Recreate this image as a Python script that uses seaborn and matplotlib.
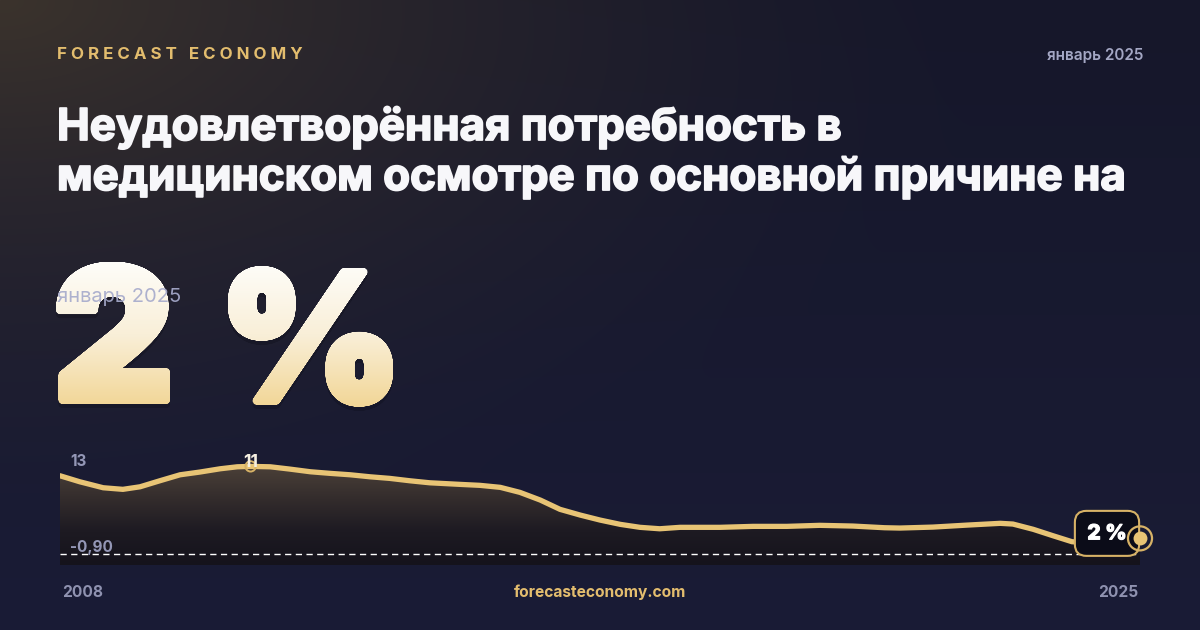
import numpy as np
import seaborn as sns
import matplotlib.pyplot as plt
import matplotlib.patheffects as pe
from matplotlib.font_manager import FontProperties
from matplotlib.textpath import TextPath
from matplotlib.path import Path
from matplotlib.patches import PathPatch
from matplotlib.transforms import Affine2D
from matplotlib.colors import LinearSegmentedColormap, to_rgb

# Series (decimal years, percent)
years = [
    2008.00, 2008.31, 2008.68, 2008.99, 2009.26, 2009.57, 2009.89, 2010.20,
    2010.52, 2010.79, 2011.00, 2011.31, 2011.62, 2011.94, 2012.25, 2012.57,
    2012.88, 2013.19, 2013.51, 2013.82, 2014.30, 2014.61, 2014.93, 2015.24,
    2015.56, 2015.87, 2016.19, 2016.50, 2016.82, 2017.13, 2017.44, 2017.76,
    2018.39, 2018.91, 2019.44, 2019.96, 2020.48, 2020.98, 2021.22, 2021.74,
    2022.28, 2022.80, 2023.00, 2023.32, 2023.63, 2023.93, 2024.50, 2025.00,
]
values = [
    9.83, 9.08, 8.33, 8.13, 8.45, 9.20, 9.95, 10.29,
    10.70, 10.95, 11.00, 10.95, 10.66, 10.33, 10.13, 9.95,
    9.70, 9.50, 9.20, 8.95, 8.75, 8.63, 8.38, 7.75,
    6.79, 5.63, 4.91, 4.29, 3.75, 3.38, 3.20, 3.38,
    3.38, 3.50, 3.50, 3.63, 3.54, 3.33, 3.29, 3.41,
    3.66, 3.88, 3.79, 3.13, 2.33, 1.58, 1.35, 2.00,
]
peak_year, peak_value, peak_label = 2011.0, 11.0, "11"
last_label = "2 %"
y_max_label, y_min_label = "13", "-0,90"
start_label, end_label = "2008", "2025"
period = "январь 2025"
brand = "FORECAST ECONOMY"
site = "forecasteconomy.com"
title_lines = [
    "Неудовлетворённая потребность в",
    "медицинском осмотре по основной причине на",
]
headline_glyphs = ["2", "%"]

GOLD = "#e8c475"
RING = "#d7b266"
GREY = "#9497b6"
W, H = 1200, 630

sns.set_theme(style="dark")
plt.rcParams["font.family"] = ["Inter", "DejaVu Sans"]

fig = plt.figure(figsize=(12, 6.3), dpi=100)

# background: navy with a warm glow in the top-left corner
bg = fig.add_axes([0, 0, 1, 1], zorder=0)
bg.axis("off")
yy, xx = np.mgrid[0:H, 0:W]
top, bottom = np.array(to_rgb("#16172a")), np.array(to_rgb("#1a1c36"))
t = (yy / H)[..., None]
img = top * (1 - t) + bottom * t
d = np.sqrt((xx / 1000.0) ** 2 + (yy / 540.0) ** 2)
glow = (np.clip(1 - d, 0, 1) ** 1.5)[..., None]
img = img * (1 - glow) + np.array(to_rgb("#3b332d")) * glow
bg.imshow(img, extent=[0, W, H, 0], aspect="auto")
bg.set_xlim(0, W)
bg.set_ylim(H, 0)

# chart
ax = fig.add_axes([60 / W, 65 / H, 1080 / W, 115 / H], zorder=2)
ax.patch.set_alpha(0)
ax.axis("off")

fill_cmap = LinearSegmentedColormap.from_list(
    "fill", ["#15131c", "#1d1a22", "#332c2c", "#4b4038"])
grad = np.linspace(0, 1, 256)[:, None]
fill_im = ax.imshow(grad, extent=[2008, 2025, -1.33, 11.0], origin="lower",
                    cmap=fill_cmap, aspect="auto", zorder=1)
poly = ax.fill_between(years, values, -1.33, color="none", lw=0)
fill_im.set_clip_path(poly.get_paths()[0], transform=ax.transData)
ax.set_xlim(2008, 2025)
ax.set_ylim(-1.33, 13.05)

ax.axhline(0, color="white", lw=1, dashes=(4.5, 3.2), zorder=2)
sns.lineplot(x=years, y=values, ax=ax, color=GOLD, lw=3.8, zorder=3)

ax.scatter([peak_year], [peak_value], s=55, facecolor="none",
           edgecolor=RING, lw=1.4, zorder=4)
ax.annotate(peak_label, (peak_year, peak_value), xytext=(0, 4),
            textcoords="offset pixels", ha="center", va="center",
            fontsize=12.5, fontweight="bold", color="#f6f0e2", zorder=5)

ax.annotate(last_label, (years[-1], values[-1]), xytext=(-33, 5),
            textcoords="offset pixels", ha="center", va="center",
            fontsize=15, fontweight="heavy", color="white", zorder=6,
            path_effects=[pe.withStroke(linewidth=0.8, foreground="white")],
            bbox=dict(boxstyle="round,pad=0.6,rounding_size=0.55",
                      fc="#0b0c18", ec=RING, lw=1.5))
ax.scatter([years[-1]], [values[-1]], s=300, facecolor="none",
           edgecolor=RING, lw=1.6, zorder=7, clip_on=False)
ax.scatter([years[-1]], [values[-1]], s=100, color=GOLD, lw=0, zorder=8,
           clip_on=False)

ax.annotate(y_max_label, (0, 1), xycoords="axes fraction", xytext=(10, -16),
            textcoords="offset pixels", fontsize=11, fontweight="bold", color=GREY)
ax.annotate(y_min_label, (0, 0), xycoords="axes fraction", xytext=(10, 13),
            textcoords="offset pixels", fontsize=11, fontweight="bold", color=GREY)

# overlay for texts (pixel coords, y up)
ov = fig.add_axes([0, 0, 1, 1], zorder=3)
ov.patch.set_alpha(0)
ov.axis("off")

spaced = "   ".join(" ".join(w) for w in brand.split())
ov.text(57, H - 59, spaced, fontsize=12.2, fontweight="bold", color="#e3bd6e")
ov.text(1143, H - 60, period, fontsize=11, fontweight="semibold",
        color="#a4a7c4", ha="right")
for i, line in enumerate(title_lines):
    ov.text(57, H - 140 - 50 * i, line, fontsize=31.6, fontweight="bold",
            color="#f7f7fa",
            path_effects=[pe.withStroke(linewidth=1.3, foreground="#f7f7fa")])

# big headline: each glyph fitted to its box, thickened, gradient filled
fp = FontProperties(family=["Inter", "DejaVu Sans"], weight="black")
boxes = [(56, 170, 261.7, 404), (228, 393, 266, 406.7)]
r = 3.5
pieces = []
for glyph, (x0, x1, ytop, ybot) in zip(headline_glyphs, boxes):
    gp = TextPath((0, 0), glyph, size=100, prop=fp)
    e = gp.get_extents()
    sx = (x1 - x0 - 2 * r) / e.width
    sy = (ybot - ytop - 2 * r) / e.height
    base = (Affine2D().translate(-e.x0, -e.y0).scale(sx, sy)
            .translate(x0 + r, H - ybot + r).transform_path(gp))
    for a in np.linspace(0, 2 * np.pi, 24, endpoint=False):
        pieces.append(Affine2D().translate(r * np.cos(a), r * np.sin(a)).transform_path(base))
    pieces.append(base)
head = Path.make_compound_path(*pieces)
ext = head.get_extents()

shadow = PathPatch(Affine2D().translate(0, -4).transform_path(head),
                   fc="#07070f", ec="none", alpha=0.22, zorder=1)
ov.add_patch(shadow)
head_cmap = LinearSegmentedColormap.from_list("head", ["#f2d696", "#f9efd8", "#fefdf9"])
head_im = ov.imshow(grad, extent=[ext.x0, ext.x1, ext.y0, ext.y1], origin="lower",
                    cmap=head_cmap, aspect="auto", zorder=2)
patch = PathPatch(head, transform=ov.transData, fc="none", ec="none")
ov.add_patch(patch)
head_im.set_clip_path(patch)

ov.text(57, H - 302, period, fontsize=14.5, color="#a7abcc", alpha=0.92, zorder=4)

ov.text(62, H - 597, start_label, fontsize=11.2, fontweight="bold", color="#8f92b0")
ov.text(1138, H - 597, end_label, fontsize=11.2, fontweight="bold",
        color="#8f92b0", ha="right")
ov.text(600, H - 597, site, fontsize=11.2, fontweight="bold", color="#e3bd6e",
        ha="center")

ov.set_xlim(0, W)
ov.set_ylim(0, H)

fig.savefig("out.png", dpi=100)
